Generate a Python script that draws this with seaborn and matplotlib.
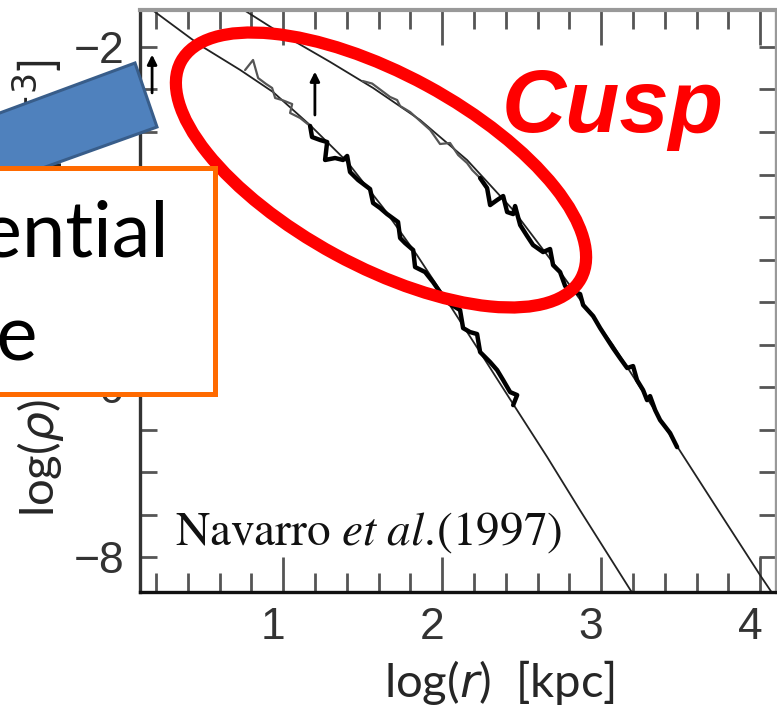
import matplotlib
matplotlib.use("Agg")
import matplotlib.pyplot as plt
import matplotlib.transforms as mtransforms
from matplotlib.patches import Ellipse, Polygon, Rectangle
from matplotlib.ticker import MultipleLocator
import seaborn as sns

# ── data: log(r) [kpc] vs log(rho) ──
# smooth fit, inner halo (left curve)
fit_a_x = [0.138, 0.478, 0.730, 0.937, 1.170, 1.403, 1.629, 1.843, 2.050,
           2.239, 2.447, 2.660, 2.868, 3.182, 3.277]
fit_a_y = [-1.51, -1.98, -2.27, -2.53, -2.92, -3.35, -3.89, -4.45, -5.04,
           -5.59, -6.20, -6.82, -7.45, -8.38, -8.65]
# smooth fit, outer halo (right curve)
fit_b_x = [0.704, 0.981, 1.296, 1.566, 1.862, 2.157, 2.447, 2.761, 3.075,
           3.289, 3.453, 3.748, 4.000, 4.157]
fit_b_y = [-1.506, -1.835, -2.176, -2.482, -2.859, -3.329, -3.918, -4.694,
           -5.506, -6.129, -6.624, -7.482, -8.212, -8.647]

# simulated profiles (noisy)
sim_a_x = [0.761, 0.811, 0.843, 0.893, 0.931, 0.950, 0.994, 1.057, 1.044,
           1.107, 1.170, 1.182, 1.233, 1.277, 1.264, 1.327, 1.377, 1.403,
           1.421, 1.472, 1.547, 1.566, 1.610, 1.654, 1.723, 1.736, 1.767,
           1.818, 1.830, 1.893, 1.943, 1.969, 2.031, 2.082, 2.113, 2.132,
           2.176, 2.220, 2.239, 2.302, 2.346, 2.384, 2.428, 2.472, 2.447]
sim_a_y = [-2.271, -2.153, -2.365, -2.435, -2.482, -2.600, -2.624, -2.671,
           -2.776, -2.835, -2.929, -3.059, -3.094, -3.118, -3.329, -3.306,
           -3.329, -3.282, -3.471, -3.565, -3.671, -3.835, -3.894, -3.965,
           -4.059, -4.247, -4.306, -4.388, -4.588, -4.647, -4.765, -4.835,
           -5.000, -5.059, -5.094, -5.306, -5.353, -5.376, -5.588, -5.706,
           -5.800, -5.918, -6.059, -6.094, -6.212]
sim_b_x = [1.500, 1.560, 1.610, 1.673, 1.717, 1.736, 1.799, 1.862, 1.925,
           1.987, 2.050, 2.101, 2.157, 2.189, 2.239, 2.283, 2.302, 2.346,
           2.384, 2.409, 2.447, 2.459, 2.491, 2.535, 2.572, 2.635, 2.679,
           2.698, 2.742, 2.774, 2.805, 2.868, 2.887, 2.950, 2.994, 3.075,
           3.119, 3.164, 3.201, 3.226, 3.264, 3.289, 3.308, 3.340, 3.371,
           3.434, 3.478]
sim_b_y = [-2.400, -2.430, -2.500, -2.588, -2.624, -2.694, -2.765, -2.871,
           -2.976, -3.141, -3.129, -3.271, -3.365, -3.447, -3.541, -3.659,
           -3.859, -3.800, -3.753, -3.941, -3.965, -3.871, -4.094, -4.224,
           -4.329, -4.412, -4.376, -4.565, -4.647, -4.812, -4.859, -4.906,
           -5.035, -5.165, -5.306, -5.541, -5.659, -5.776, -5.753, -5.918,
           -6.035, -6.153, -6.106, -6.271, -6.388, -6.541, -6.706]
# where the faint (sparse) part of each profile ends
a_faint_n = 10
b_faint_n = 14

# arrows marking scale radii: x, tip y, tail y
arrows_x = [1.20, 0.176]
arrows_tip = [-2.29, -2.09]
arrows_tail = [-2.80, -2.54]

x_ticks = [1, 2, 3, 4]
y_ticks = [-8, -6, -4, -2]

sns.set_style("ticks")
plt.rcParams["font.family"] = ["Lato", "DejaVu Sans"]

fig = plt.figure(figsize=(7.77, 7.10), dpi=100)
ax = fig.add_axes([140/777, 118/710, 636/777, 582/710])

# fits
sns.lineplot(x=fit_a_x, y=fit_a_y, ax=ax, color="#222222", lw=1.3,
             sort=False, estimator=None)
sns.lineplot(x=fit_b_x, y=fit_b_y, ax=ax, color="#222222", lw=1.3,
             sort=False, estimator=None)
# simulations: faint start, then thick
sns.lineplot(x=sim_a_x[:a_faint_n + 1], y=sim_a_y[:a_faint_n + 1], ax=ax,
             color="#555555", lw=1.6, sort=False, estimator=None)
sns.lineplot(x=sim_a_x[a_faint_n:], y=sim_a_y[a_faint_n:], ax=ax,
             color="black", lw=3.2, sort=False, estimator=None)
sns.lineplot(x=sim_b_x[:b_faint_n + 1], y=sim_b_y[:b_faint_n + 1], ax=ax,
             color="#555555", lw=1.6, sort=False, estimator=None)
sns.lineplot(x=sim_b_x[b_faint_n:], y=sim_b_y[b_faint_n:], ax=ax,
             color="black", lw=3.2, sort=False, estimator=None)

for xa, yt, yb in zip(arrows_x, arrows_tip, arrows_tail):
    ax.annotate("", xy=(xa, yt), xytext=(xa, yb),
                arrowprops=dict(arrowstyle="-|>", color="black", lw=2,
                                mutation_scale=14, shrinkA=0, shrinkB=0))

ax.set_xlim(0.10, 4.10)
ax.set_ylim(-8.41, -1.565)
ax.set_xticks(x_ticks)
ax.set_yticks(y_ticks)
ax.xaxis.set_minor_locator(MultipleLocator(0.2))
ax.yaxis.set_minor_locator(MultipleLocator(0.5))
ax.tick_params(which="both", direction="in", top=True, right=True,
               color="#555555", width=2, labelcolor="#333333",
               labelsize=32, pad=11)
ax.tick_params(axis="x", which="major", length=25)
ax.tick_params(axis="x", which="minor", length=14)
ax.tick_params(axis="y", which="both", length=12)
for lbl in ax.get_xticklabels() + ax.get_yticklabels():
    lbl.set_fontfamily("Liberation Sans")
shift = mtransforms.ScaledTranslation(-0.10, 0, fig.dpi_scale_trans)
for lbl in ax.get_xticklabels():
    lbl.set_transform(lbl.get_transform() + shift)

ax.spines["left"].set(color="#333333", lw=2.4)
ax.spines["bottom"].set(color="#111111", lw=2.4)
ax.spines["top"].set(color="#999999", lw=3)
ax.spines["right"].set(color="#999999", lw=2.4)

ax.set_xlabel(r"log($r$)  [kpc]", fontsize=34, math_fontfamily="dejavusans",
              ha="center", va="baseline")
ax.xaxis.set_label_coords(0.566, -0.180)
ax.set_ylabel(r"log($\rho$)  [$h^2$ M$_\odot$ kpc$^{-3}$]", fontsize=34,
              math_fontfamily="dejavusans", rotation=90,
              rotation_mode="anchor", ha="left", va="baseline")
ax.yaxis.set_label_coords(-0.134, 0.129)

ax.text(0.055, 0.081,
        r"$\mathrm{Navarro}\ \mathit{et\ al.}\!\mathrm{(1997)}$",
        transform=ax.transAxes, fontsize=34, math_fontfamily="stix",
        ha="left", va="baseline", color="#111111")

# ── slide overlays (pixel coordinates) ──
ov = fig.add_axes([0, 0, 1, 1], zorder=5)
ov.set_xlim(0, 777)
ov.set_ylim(710, 0)
ov.axis("off")
ov.patch.set_alpha(0)

ov.add_patch(Ellipse((381, 170), 455, 192, angle=28.5, fill=False,
                     edgecolor="#FF0000", lw=8.8))
ov.add_patch(Polygon([(-30, 124), (135, 63), (157, 127), (-30, 194)],
                     closed=True, facecolor="#4F81BD", edgecolor="#385D8A",
                     lw=2.2))
ov.add_patch(Rectangle((-20, 168), 235, 226, facecolor="white",
                       edgecolor="#FF6A00", lw=3.6))
ov.text(170, 257, "Exponential", ha="right", va="baseline", fontsize=56,
        family="Lato", color="black")
ov.text(38, 360, "profile", ha="right", va="baseline", fontsize=56,
        family="Lato", color="black")
ov.text(502, 132, "Cusp", ha="left", va="baseline", fontsize=64,
        family="Liberation Sans", fontweight="bold", fontstyle="italic",
        color="#FF0000")

plt.savefig("out.png", dpi=100)
plt.close()
